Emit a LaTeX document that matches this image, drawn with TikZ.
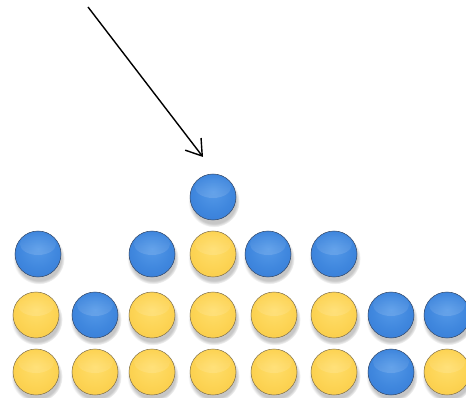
\documentclass[tikz,border=0pt]{standalone}
\usetikzlibrary{arrows.meta,shadows,fadings}

% glossy ball fills (centre of the gradient sits a little above the middle)
\pgfdeclareradialshading{blueball}{\pgfpoint{0bp}{6bp}}{%
  rgb(0bp)=(0.33,0.60,0.91);
  rgb(20bp)=(0.25,0.53,0.87);
  rgb(40bp)=(0.20,0.47,0.83);
  rgb(48bp)=(0.15,0.39,0.74);
  rgb(54bp)=(0.10,0.29,0.58);
  rgb(60bp)=(0.06,0.18,0.40)}
\pgfdeclareradialshading{yellowball}{\pgfpoint{0bp}{6bp}}{%
  rgb(0bp)=(1.00,0.87,0.42);
  rgb(20bp)=(0.99,0.83,0.33);
  rgb(40bp)=(0.97,0.78,0.26);
  rgb(48bp)=(0.88,0.67,0.18);
  rgb(54bp)=(0.70,0.53,0.15);
  rgb(60bp)=(0.48,0.38,0.14)}

\definecolor{blueedge}{rgb}{0.20,0.28,0.40}
\definecolor{yellowedge}{rgb}{0.50,0.44,0.30}

\tikzset{
  ball/.style={circle, minimum size=46pt, inner sep=0pt, line width=0.5pt,
    draw=#1edge, shading=#1ball,
    circular drop shadow={shadow xshift=0.8pt, shadow yshift=-4pt,
      shadow scale=1.12, opacity=0.45},
    path picture={
      % soft gloss on the upper half
      \fill[white, opacity=0.25, path fading=north]
        ([yshift=10pt]path picture bounding box.center)
        ellipse [x radius=18pt, y radius=11pt];
    }},
  pointer/.style={line width=1.4pt, -{Straight Barb[length=15pt,width=20pt]}}
}

\begin{document}
\begin{tikzpicture}[x=1pt,y=-1pt]
  \useasboundingbox (0,0) rectangle (466,398);

  % falling ball
  \node[ball=blue] (t) at (213,197) {};

  % second row
  \node[ball=blue]   (r1) at (38,254)  {};
  \node[ball=blue]   (r3) at (152,254) {};
  \node[ball=yellow] (r4) at (213,254) {};
  \node[ball=blue]   (r5) at (268,254) {};
  \node[ball=blue]   (r6) at (334,254) {};

  % third row
  \node[ball=yellow] (s1) at (36,315)  {};
  \node[ball=blue]   (s2) at (95,315)  {};
  \node[ball=yellow] (s3) at (152,315) {};
  \node[ball=yellow] (s4) at (213,315) {};
  \node[ball=yellow] (s5) at (274,315) {};
  \node[ball=yellow] (s6) at (334,315) {};
  \node[ball=blue]   (s7) at (391,315) {};
  \node[ball=blue]   (s8) at (447,315) {};

  % bottom row
  \node[ball=yellow] (u1) at (36,372)  {};
  \node[ball=yellow] (u2) at (95,372)  {};
  \node[ball=yellow] (u3) at (152,372) {};
  \node[ball=yellow] (u4) at (213,372) {};
  \node[ball=yellow] (u5) at (274,372) {};
  \node[ball=yellow] (u6) at (334,372) {};
  \node[ball=blue]   (u7) at (391,372) {};
  \node[ball=yellow] (u8) at (447,372) {};

  % arrow pointing at the top ball
  \coordinate (from) at (88,7);
  \coordinate (to) at (203,157);
  \draw[pointer] (from) -- (to);
\end{tikzpicture}
\end{document}
